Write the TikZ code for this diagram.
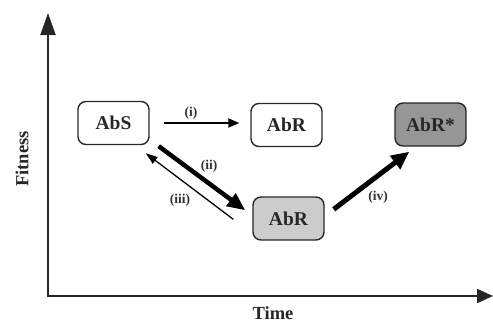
\documentclass[tikz,border=0pt]{standalone}
\usepackage{fontspec}
\setmainfont{Liberation Serif}
\usetikzlibrary{arrows.meta,calc}
\definecolor{boxedge}{RGB}{40,40,40}
\definecolor{lightfill}{RGB}{204,204,204}
\definecolor{darkfill}{RGB}{150,150,150}
\tikzset{
  statebox/.style={draw=boxedge, line width=1.4pt, rounded corners=8pt, minimum width=71pt, minimum height=43pt, inner sep=0pt, font=\fontsize{19.5}{22}\selectfont\bfseries, text=black!85},
  lbl/.style={font=\fontsize{13.5}{15}\selectfont\bfseries, text=black!80},
  axislabel/.style={font=\fontsize{18.5}{21}\selectfont\bfseries, text=black!85},
  axisline/.style={line width=2pt, draw=black!85},
}
\begin{document}
\begin{tikzpicture}[x=1pt,y=-1pt]
\useasboundingbox (0,0) rectangle (493,322);
% axes
\coordinate (O) at (48,296);
\coordinate (Ytop) at (48,13);
\coordinate (Xend) at (493,296);
\draw[axisline, -{Triangle[length=22pt,width=15pt]}] ($(O)+(0,1)$) -- (Ytop);
\draw[axisline, -{Triangle[length=16pt,width=14pt]}] ($(O)+(-1,0)$) -- (Xend);
\node[axislabel, rotate=90] (fit) at (22,159) {Fitness};
\node[axislabel] (time) at (273,313) {Time};
% boxes
\node[statebox, fill=white] (AbS) at (113.5,123) {AbS};
\node[statebox, fill=white] (AbR) at (286.5,125) {AbR};
\node[statebox, fill=darkfill] (AbRs) at (430.5,124.5) {AbR*};
\node[statebox, fill=lightfill] (AbRb) at (288.5,218.5) {AbR};
% arrows
\draw[line width=2pt, -{Triangle[length=11pt,width=9pt]}, shorten <=14pt, shorten >=11pt] (AbS.east) -- (AbS.east -| AbR.west);
\node[lbl] (li) at (191,113) {(i)};
\coordinate (iiS) at ($(AbS.south east)+(9,1)$);
\coordinate (iiE) at ($(AbRb.north west)+(-7,14)$);
\draw[line width=4.5pt, -{Triangle[length=18pt,width=15pt]}] (iiS) -- (iiE);
\node[lbl] (lii) at (209,166) {(ii)};
\coordinate (iiiS) at ($(AbRb.north west)+(-19,23)$);
\coordinate (iiiE) at ($(AbS.south east)+(-4,8)$);
\draw[line width=1.3pt, -{Triangle[length=12pt,width=8pt]}] (iiiS) -- (iiiE);
\node[lbl] (liii) at (180,200) {(iii)};
\coordinate (ivS) at ($(AbRb.north east)+(9,13)$);
\coordinate (ivE) at ($(AbRs.south west)+(15,5)$);
\draw[line width=5pt, -{Triangle[length=18pt,width=16pt]}] (ivS) -- (ivE);
\node[lbl] (liv) at (378,197) {(iv)};
\end{tikzpicture}
\end{document}
